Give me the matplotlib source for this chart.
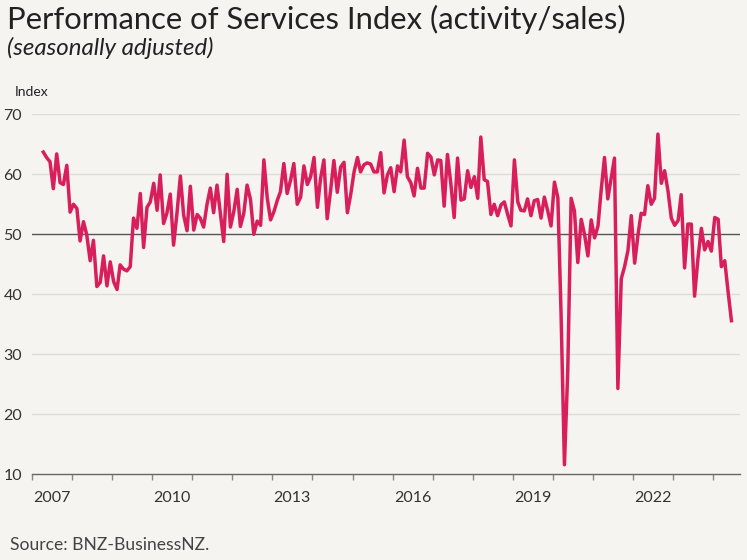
import matplotlib
matplotlib.use("Agg")
import matplotlib.pyplot as plt
import pandas as pd

# Performance of Services Index, monthly, seasonally adjusted
first_month = "2007-04"
psi = [
    63.7, 62.8, 62.1, 57.6, 63.4, 58.6, 58.3, 61.5, 53.7,                    # 2007
    55.0, 54.3, 48.9, 52.1, 49.9, 45.6, 49.0, 41.3, 42.0, 46.4, 41.4, 45.4,  # 2008
    42.1, 40.8, 44.9, 44.2, 43.9, 44.6, 52.7, 51.0, 56.8, 47.8, 54.5, 55.4,  # 2009
    58.5, 54.0, 59.9, 51.8, 53.5, 56.7, 48.2, 53.5, 59.7, 53.2, 50.6, 58.0,  # 2010
    50.7, 53.3, 52.7, 51.2, 54.9, 57.7, 53.6, 58.2, 53.5, 48.8, 60.0, 51.2,  # 2011
    53.8, 57.5, 51.3, 53.5, 58.2, 55.8, 50.0, 52.2, 51.5, 62.4, 56.0, 52.4,  # 2012
    53.8, 55.7, 57.1, 61.8, 56.8, 59.0, 61.8, 55.0, 56.2, 61.4, 58.3, 59.6,  # 2013
    62.8, 54.5, 59.2, 62.4, 52.6, 57.3, 62.3, 57.0, 61.2, 62.0, 53.6, 56.6,  # 2014
    60.4, 62.8, 60.4, 61.6, 61.9, 61.7, 60.4, 60.4, 63.6, 56.9, 59.9, 61.1,  # 2015
    57.1, 61.4, 60.4, 65.7, 59.6, 58.6, 56.4, 61.0, 57.7, 57.7, 63.5, 62.9,  # 2016
    59.9, 62.4, 62.3, 54.7, 63.3, 58.4, 52.8, 62.7, 55.7, 55.9, 60.6, 57.8,  # 2017
    59.6, 56.0, 66.2, 59.1, 58.8, 53.3, 55.0, 53.1, 54.9, 55.4, 53.3, 51.4,  # 2018
    62.4, 55.4, 54.0, 53.9, 55.9, 53.1, 55.6, 55.8, 52.7, 56.2, 53.9, 51.4,  # 2019
    58.7, 56.1, 37.0, 11.6, 27.0, 56.0, 53.9, 45.3, 52.5, 50.0, 46.4, 52.4,  # 2020
    49.4, 51.4, 57.2, 62.8, 55.9, 59.3, 62.7, 24.3, 42.6, 44.6, 47.3, 53.1,  # 2021
    45.2, 50.0, 53.5, 53.3, 58.1, 55.0, 56.0, 66.7, 58.5, 60.6, 57.2, 52.7,  # 2022
    51.5, 52.3, 56.6, 44.4, 51.7, 51.7, 39.7, 46.0, 51.0, 47.4, 48.8, 47.2,  # 2023
    52.8, 52.5, 44.6, 45.6, 40.5, 35.6,                                      # 2024
]

label_years = [2007, 2010, 2013, 2016, 2019, 2022]
tick_years = list(range(2007, 2025))
y_ticks = [10, 20, 30, 40, 50, 60, 70]

bg = "#f5f4f0"
line_col = "#d81f5c"
text_col = "#333333"

plt.rcParams["font.family"] = ["Lato", "DejaVu Sans"]

# points sit in the middle of each month
dates = pd.date_range(first_month, periods=len(psi), freq="MS") + pd.Timedelta(days=14)

fig = plt.figure(figsize=(7.47, 5.6), dpi=100, facecolor=bg)
ax = fig.add_axes([31.9 / 747, 1 - 474.3 / 560, (740 - 31.9) / 747, (474.3 - 114.3) / 560])
ax.set_facecolor(bg)

for y in y_ticks[1:]:
    if y == 50:
        ax.axhline(y, color="#555555", lw=1.0, zorder=2)
    else:
        ax.axhline(y, color="#dedcd8", lw=1.0, zorder=1)

ax.plot(dates, psi, color=line_col, lw=2.5, zorder=3)

ax.set_xlim(pd.Timestamp("2007-01-01"), pd.Timestamp("2024-09-01"))
ax.set_ylim(10, 70)

for s in ["top", "right", "left"]:
    ax.spines[s].set_visible(False)
ax.spines["bottom"].set_color("#666666")
ax.spines["bottom"].set_linewidth(1.0)

ax.set_yticks(y_ticks)
ax.tick_params(axis="y", length=0, pad=7, labelsize=11.5, labelcolor=text_col)

ax.set_xticks([pd.Timestamp(f"{y}-01-01") for y in tick_years])
ax.set_xticklabels([])
ax.set_xticks([pd.Timestamp(f"{y}-07-01") for y in label_years], minor=True)
ax.set_xticklabels([str(y) for y in label_years], minor=True)
ax.tick_params(axis="x", which="major", length=4, color="#888888", width=1)
ax.tick_params(axis="x", which="minor", length=0, pad=12, labelsize=11.5, labelcolor=text_col)

fig.text(7 / 747, 1 - 19 / 560, "Performance of Services Index (activity/sales)",
         fontsize=22.3, color="#222222", va="center", ha="left")
fig.text(7 / 747, 1 - 48 / 560, "(seasonally adjusted)", fontsize=17.3, style="italic",
         color="#222222", va="center", ha="left")
fig.text(15 / 747, 1 - 92 / 560, "Index", fontsize=10, color="#222222", va="center", ha="left")
fig.text(10 / 747, 1 - 545 / 560, "Source: BNZ-BusinessNZ.", fontsize=12.6, color="#444444",
         va="center", ha="left")

fig.savefig("out.png", dpi=100, facecolor=bg)
